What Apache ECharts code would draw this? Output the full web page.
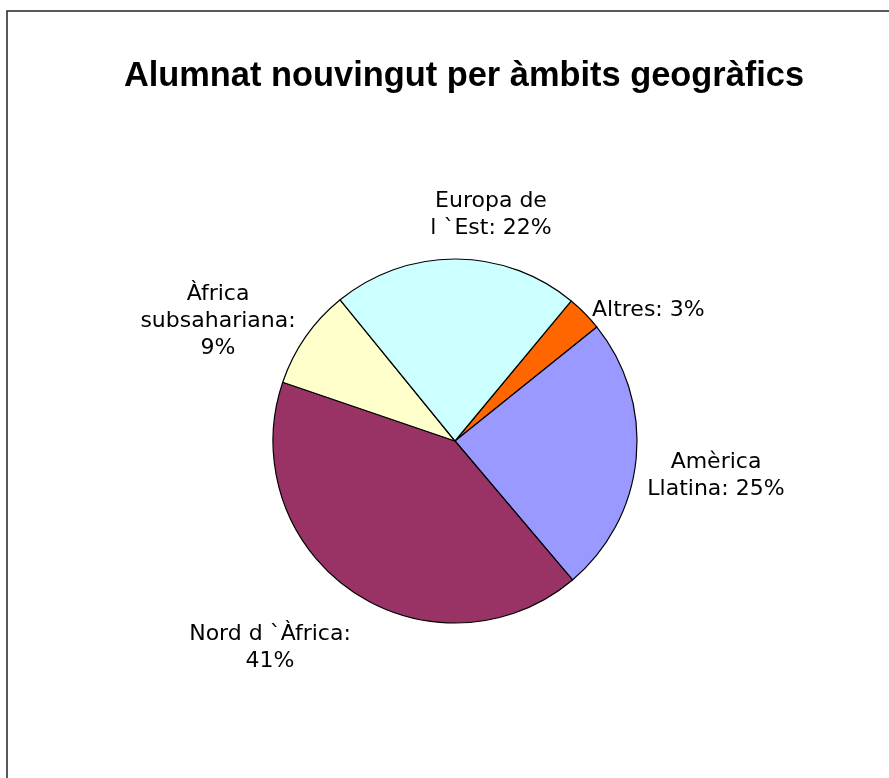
<!DOCTYPE html>
<html>
<head>
<meta charset="utf-8">
<title>Alumnat nouvingut per àmbits geogràfics</title>
<script src="https://cdn.jsdelivr.net/npm/echarts@6/dist/echarts.min.js"></script>
<style>
  html, body { margin: 0; padding: 0; background: #fff; }
  #chart { width: 889px; height: 778px; }
</style>
</head>
<body>
<div id="chart"></div>
<script>
// dades (percentatges llegits de la imatge), en ordre horari
const categories = ['Altres', 'Amèrica Llatina', 'Nord d `Àfrica', 'Àfrica subsahariana', 'Europa de l `Est']
const values = [3.2, 24.6, 41.4, 8.9, 21.9]
const colors = ['#FF6600', '#9999FF', '#993366', '#FFFFCC', '#CCFFFF']

// com es parteix cada etiqueta
const wrapped = {
  'Altres': 'Altres',
  'Amèrica Llatina': 'Amèrica\nLlatina',
  'Nord d `Àfrica': 'Nord d `Àfrica:\n',
  'Àfrica subsahariana': 'Àfrica\nsubsahariana:\n',
  'Europa de l `Est': 'Europa de\nl `Est'
}

// on va cada etiqueta (centre del text)
const labelPlace = [
  {x: 592, y: 310, align: 'left'},
  {x: 716, y: 476, align: 'center'},
  {x: 270, y: 648, align: 'center'},
  {x: 218, y: 321, align: 'center'},
  {x: 491, y: 215, align: 'center'}
]

const chart = echarts.init(document.getElementById('chart'))

const pieData = categories.map((name, i) => ({
  name: name,
  value: values[i],
  itemStyle: { color: colors[i] }
}))

chart.setOption({
  animation: false,
  title: {
    text: 'Alumnat nouvingut per àmbits geogràfics',
    left: 459,
    top: 55,
    textAlign: 'center',
    textStyle: {
      fontFamily: '"Liberation Sans", Arial, sans-serif',
      fontWeight: 'bold',
      fontSize: 34.4,
      color: '#000'
    }
  },
  graphic: [{
    type: 'rect',
    shape: { x: 7, y: 11, width: 1000, height: 1000 },
    style: { fill: 'none', stroke: '#222', lineWidth: 1.5 },
    silent: true
  }],
  series: [{
    type: 'pie',
    center: [455, 441],
    radius: 182,
    startAngle: 50.3,
    clockwise: true,
    percentPrecision: 0,
    data: pieData,
    itemStyle: { borderColor: '#000', borderWidth: 1.2 },
    emphasis: { disabled: true },
    labelLine: { show: false },
    label: {
      show: true,
      position: 'outside',
      fontFamily: '"DejaVu Sans", Verdana, sans-serif',
      fontSize: 22,
      lineHeight: 27,
      color: '#000',
      formatter: (p) => {
        const w = wrapped[p.name]
        const pct = Math.round(p.percent)
        return w.endsWith('\n') ? w + pct + '%' : w + ': ' + pct + '%'
      }
    },
    labelLayout: (p) => {
      const pos = labelPlace[p.dataIndex]
      return { x: pos.x, y: pos.y, align: pos.align, verticalAlign: 'middle' }
    }
  }]
})
</script>
</body>
</html>
